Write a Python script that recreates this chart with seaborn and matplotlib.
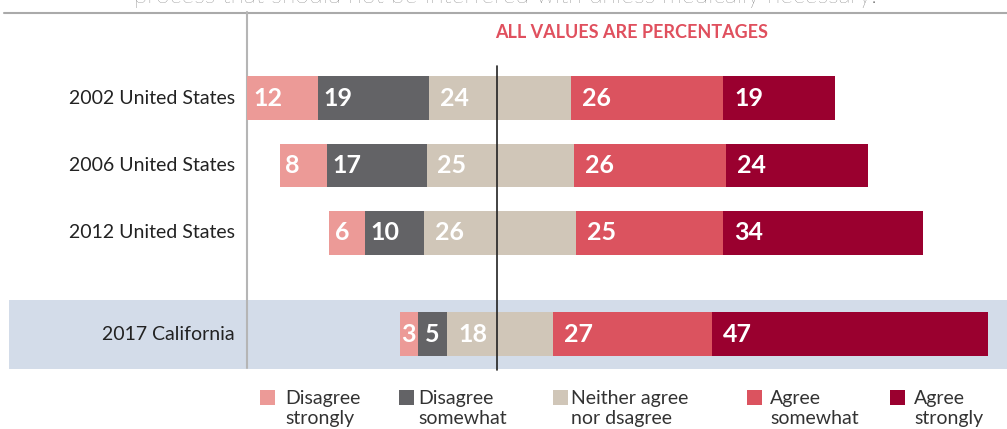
import matplotlib
matplotlib.use("Agg")
import matplotlib.pyplot as plt
from matplotlib.patches import Rectangle
import seaborn as sns

# data
rows = ["2002 United States", "2006 United States", "2012 United States", "2017 California"]
row_pos = [0, 1, 2, 3.5]
disagree_strongly = [12, 8, 6, 3]
disagree_somewhat = [19, 17, 10, 5]
neither = [24, 25, 26, 18]
agree_somewhat = [26, 26, 25, 27]
agree_strongly = [19, 24, 34, 47]
legend_labels = ["Disagree\nstrongly", "Disagree\nsomewhat", "Neither agree\nnor dsagree",
                 "Agree\nsomewhat", "Agree\nstrongly"]

C_DST = "#ec9a97"
C_DSW = "#636366"
C_NEU = "#d0c6b8"
C_AGS = "#db535f"
C_AGST = "#9a002f"
colors = [C_DST, C_DSW, C_NEU, C_AGS, C_AGST]

W, H = 1007, 429
CX, SX = 500, 5.88     # pixel of zero, pixels per percent
RY0, SY = 98, 67.5     # pixel of first row, pixels per row step


def px2x(p):
    return (p - CX) / SX


def py2y(p):
    return (p - RY0) / SY


sns.set_theme(style="white")
plt.rcParams["font.family"] = ["Lato", "DejaVu Sans"]

fig = plt.figure(figsize=(W / 100, H / 100), dpi=100)
ax = fig.add_axes([0, 0, 1, 1])

half = [n / 2 for n in neither]
layers = [
    ([-(h + a + b) for h, a, b in zip(half, disagree_somewhat, disagree_strongly)], C_DST),
    ([-(h + a) for h, a in zip(half, disagree_somewhat)], C_DSW),
    ([-h for h in half], C_NEU),
    ([h + a + b for h, a, b in zip(half, agree_somewhat, agree_strongly)], C_AGST),
    ([h + a for h, a in zip(half, agree_somewhat)], C_AGS),
    (half, C_NEU),
]
for vals, c in layers:
    sns.barplot(x=vals, y=row_pos, orient="y", native_scale=True, width=0.65,
                color=c, saturation=1, errorbar=None, ax=ax, zorder=2, linewidth=0)

# value labels
for i, y in enumerate(row_pos):
    starts = [-(half[i] + disagree_somewhat[i] + disagree_strongly[i]),
              -(half[i] + disagree_somewhat[i]),
              -half[i],
              half[i],
              half[i] + agree_somewhat[i]]
    vals = [disagree_strongly[i], disagree_somewhat[i], neither[i],
            agree_somewhat[i], agree_strongly[i]]
    offs = [6, 6, 11, 11, 11]
    for s, v, o in zip(starts, vals, offs):
        if v <= 5:
            ax.text(s + v / 2, y, str(v), ha="center", va="center", color="white",
                    fontsize=18, fontweight="bold", zorder=3)
        else:
            ax.text(s + o / SX, y, str(v), ha="left", va="center", color="white",
                    fontsize=18, fontweight="bold", zorder=3)
    ax.text(px2x(235), y, rows[i], ha="right", va="center", color="#222222",
            fontsize=14, zorder=3)

# highlight band for California
ax.axhspan(py2y(300), py2y(369), xmin=9 / W, xmax=1, color="#d3dce9", lw=0, zorder=0)

# rules
ax.plot([px2x(4), px2x(W)], [py2y(12.5)] * 2, color="#aaaaaa", lw=1.5, zorder=1)
ax.plot([px2x(247)] * 2, [py2y(12), py2y(368)], color="#b5b5b5", lw=1.5, zorder=1)
ax.plot([px2x(497)] * 2, [py2y(66), py2y(370)], color="#222222", lw=1.2, zorder=4)

ax.text(px2x(505), py2y(3), "process that should not be interfered with unless medically necessary.",
        ha="center", va="baseline", color="#555555", fontsize=18, fontweight="light")
ax.text(px2x(632), py2y(33), "ALL VALUES ARE PERCENTAGES", ha="center", va="center",
        color="#e0505e", fontsize=13, fontweight="bold")

# legend
sq_x = [260, 399, 553, 747, 890]
tx_x = [285, 418, 571, 770, 914]
for sx, tx, lab, c in zip(sq_x, tx_x, legend_labels, colors):
    fig.add_artist(Rectangle((sx / W, 1 - 405 / H), 15 / W, 15 / H, color=c,
                             transform=fig.transFigure, lw=0))
    fig.text(tx / W, 1 - 390 / H, lab, ha="left", va="top", color="#333333",
             fontsize=14, linespacing=1.2)

ax.set_xlim(px2x(0), px2x(W))
ax.set_ylim(py2y(H), py2y(0))
ax.set_axis_off()

fig.savefig("out.png", dpi=100)
